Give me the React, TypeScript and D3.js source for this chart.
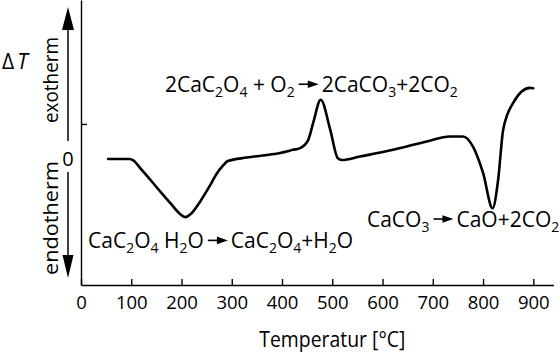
import * as d3 from "d3";
import React, {useRef, useEffect} from "react";

// DTA curve of calcium oxalate monohydrate
const temps = [54, 97, 104, 120, 140, 160, 180, 197, 207, 220, 237, 255, 270, 282, 292, 330, 396, 422, 436, 452, 462, 477, 496, 511, 519, 555, 621, 688, 734, 760, 780, 800, 819, 830, 840, 860, 893, 900];
const deltaT = [0, 0, -0.04, -0.3, -0.63, -0.97, -1.3, -1.57, -1.66, -1.55, -1.22, -0.8, -0.42, -0.2, -0.06, 0.04, 0.17, 0.26, 0.31, 0.54, 1.03, 1.69, 0.83, 0.02, -0.03, 0.07, 0.26, 0.5, 0.64, 0.64, 0.35, -0.4, -1.41, -0.6, 0.83, 1.6, 2.03, 2.02];

const xTicks = [0, 100, 200, 300, 400, 500, 600, 700, 800, 900];
const yTicks = [1];

const xLabel = "Temperatur [°C]";
const exoLabel = "exotherm";
const endoLabel = "endotherm";

// reactions: left side -> right side, anchored at (temp, deltaT) of the text baseline start
const eqLeft = ["2CaC_2O_4 + O_2", "CaC_2O_4 H_2O", "CaCO_3"];
const eqRight = ["2CaCO_3+2CO_2", "CaC_2O_4+H_2O", "CaO+2CO_2"];
const eqT = [167, 14, 569];
const eqV = [1.92, -2.54, -1.93];

const FONT = "'Open Sans', sans-serif";

function addFormula(sel, str) {
    const parts = str.split(/(_\d)/).filter(Boolean);
    let sub = false;
    parts.forEach(p => {
        if (p.startsWith("_")) {
            sel.append("tspan").attr("font-size", 14).attr("dy", sub ? 0 : 5).text(p.slice(1));
            sub = true;
        } else {
            sel.append("tspan").attr("dy", sub ? -5 : 0).text(p);
            sub = false;
        }
    });
}

function DtaChart() {

    const ref = useRef(null);

    useEffect(() => {
        const width = 560, height = 355;

        const svg = d3.select(ref.current);
        svg.selectAll("*").remove();

        const x = d3.scaleLinear().domain([0, 940]).range([81, 553.4]);
        const y = d3.scaleLinear().domain([-3.6, 4.54]).range([285, 0]);

        // x axis
        const gx = svg.append("g")
            .attr("transform", `translate(0, ${y(-3.6)})`)
            .call(d3.axisBottom(x).tickValues(xTicks).tickSize(-6).tickSizeOuter(0).tickPadding(11));
        gx.attr("font-family", FONT).attr("font-size", 18.5);
        gx.selectAll("line, path").attr("stroke", "#000").attr("stroke-width", 1.4);
        gx.selectAll("text").attr("fill", "#000");

        // y axis (single unlabeled tick)
        const gy = svg.append("g")
            .attr("transform", `translate(${x(0)}, 0)`)
            .call(d3.axisLeft(y).tickValues(yTicks).tickSize(-6).tickSizeOuter(0).tickFormat(() => ""));
        gy.selectAll("line, path").attr("stroke", "#000").attr("stroke-width", 1.4);

        // x axis title
        svg.append("text")
            .attr("x", x(500))
            .attr("y", 347)
            .attr("text-anchor", "middle")
            .attr("font-family", FONT)
            .attr("font-size", 21)
            .attr("textLength", 146)
            .attr("lengthAdjust", "spacingAndGlyphs")
            .text(xLabel);

        // Delta T label
        const dt = svg.append("text")
            .attr("x", 2)
            .attr("y", 68.5)
            .attr("font-family", FONT)
            .attr("font-size", 21);
        dt.append("tspan").text("Δ");
        dt.append("tspan").attr("dx", 3).attr("font-style", "italic").text("T");

        // zero label and exo/endo arrows
        const ax = x(0) - 13;
        svg.append("text")
            .attr("x", ax)
            .attr("y", y(0))
            .attr("dy", "0.36em")
            .attr("text-anchor", "middle")
            .attr("font-family", FONT)
            .attr("font-size", 20)
            .text("0");

        const arrowLine = (y1, y2) => svg.append("line")
            .attr("x1", ax).attr("x2", ax).attr("y1", y1).attr("y2", y2)
            .attr("stroke", "#000").attr("stroke-width", 1.5);
        arrowLine(y(0) - 18, 26);
        arrowLine(y(0) + 13, 258);
        svg.append("path")
            .attr("d", `M${ax},7 L${ax - 6},30 L${ax + 6},30 Z`)
            .attr("fill", "#000");
        svg.append("path")
            .attr("d", `M${ax},278 L${ax - 5.5},255 L${ax + 5.5},255 Z`)
            .attr("fill", "#000");

        svg.append("text")
            .attr("transform", `translate(58, 80) rotate(-90)`)
            .attr("text-anchor", "middle")
            .attr("font-family", FONT)
            .attr("font-size", 20)
            .attr("textLength", 86)
            .attr("lengthAdjust", "spacingAndGlyphs")
            .text(exoLabel);
        svg.append("text")
            .attr("transform", `translate(58, 218) rotate(-90)`)
            .attr("text-anchor", "middle")
            .attr("font-family", FONT)
            .attr("font-size", 20)
            .attr("textLength", 114)
            .attr("lengthAdjust", "spacingAndGlyphs")
            .text(endoLabel);

        // the curve
        const data = temps.map((t, i) => ({t, v: deltaT[i]}));
        const line = d3.line()
            .x(d => x(d.t))
            .y(d => y(d.v))
            .curve(d3.curveMonotoneX);
        svg.append("path")
            .datum(data)
            .attr("d", line)
            .attr("fill", "none")
            .attr("stroke", "#000")
            .attr("stroke-width", 2.6)
            .attr("stroke-linejoin", "round")
            .attr("stroke-linecap", "round");

        // reaction equations
        eqLeft.forEach((left, i) => {
            const x0 = x(eqT[i]);
            const base = y(eqV[i]);
            const lt = svg.append("text")
                .attr("x", x0).attr("y", base)
                .attr("font-family", FONT).attr("font-size", 21);
            addFormula(lt, left);
            const w = lt.node().getComputedTextLength();
            const a0 = x0 + w + 4;
            const a1 = a0 + 20;
            const ay = base - 7.5;
            svg.append("line")
                .attr("x1", a0).attr("x2", a1 - 8).attr("y1", ay).attr("y2", ay)
                .attr("stroke", "#000").attr("stroke-width", 1.6);
            svg.append("path")
                .attr("d", `M${a1},${ay} L${a1 - 11},${ay - 3.8} L${a1 - 11},${ay + 3.8} Z`)
                .attr("fill", "#000");
            const rt = svg.append("text")
                .attr("x", a1 + 3).attr("y", base)
                .attr("font-family", FONT).attr("font-size", 21);
            addFormula(rt, eqRight[i]);
        });

        svg.attr("viewBox", `0 0 ${width} ${height}`);
    }, []);

    return (
        <svg ref={ref} width={560} height={355}
             style={{position: "absolute", left: 0, top: 0, background: "#fff"}}/>
    );
}

export default function App() {
    return <DtaChart/>;
}
